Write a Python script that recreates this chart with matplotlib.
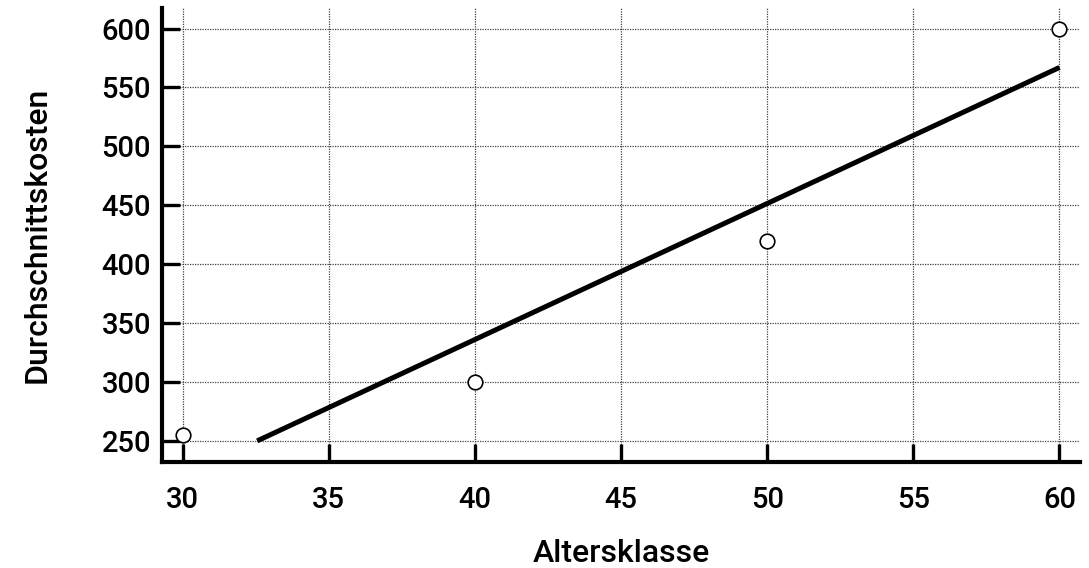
import numpy as np
import matplotlib
matplotlib.use("Agg")
import matplotlib.pyplot as plt

# data
alter = [30, 40, 50, 60]
kosten = [255, 300, 420, 600]
x_ticks = [30, 35, 40, 45, 50, 55, 60]
y_ticks = [250, 300, 350, 400, 450, 500, 550, 600]

plt.rcParams['font.family'] = ['Roboto', 'DejaVu Sans']

fig = plt.figure(figsize=(10.89, 5.68), dpi=100)
ax = fig.add_axes([0.1488, 0.1875, 0.8429, 0.7985])

# least squares line, drawn only where it stays above 250
slope, icpt = np.polyfit(alter, kosten, 1)
x_start = (250 - icpt) / slope
xl = np.array([x_start, max(alter)])
ax.plot(xl, slope * xl + icpt, color='black', lw=3.6, solid_capstyle='butt', zorder=3)

ax.plot(alter, kosten, 'o', ms=10.5, mfc='white', mec='black', mew=1.2,
        clip_on=False, zorder=4)

ax.set_xlim(29.3, 60.7)
ax.set_ylim(232.5, 617.5)
ax.set_xticks(x_ticks)
ax.set_yticks(y_ticks)

ax.grid(True, linestyle=(0, (1, 1)), color='0.25', lw=0.9)
ax.set_axisbelow(True)

for s in ['top', 'right']:
    ax.spines[s].set_visible(False)
for s in ['left', 'bottom']:
    ax.spines[s].set_linewidth(3)

ax.tick_params(direction='in', length=13, width=2.4, labelsize=21)
ax.tick_params(axis='x', pad=18)
ax.tick_params(axis='y', pad=8)
for lab in ax.get_xticklabels() + ax.get_yticklabels():
    lab.set_fontweight('medium')

ax.set_xlabel('Altersklasse', fontsize=23, fontweight='medium', labelpad=18)
ax.set_ylabel('Durchschnittskosten', fontsize=23, fontweight='medium', labelpad=36)

fig.savefig('out.png', dpi=100)
